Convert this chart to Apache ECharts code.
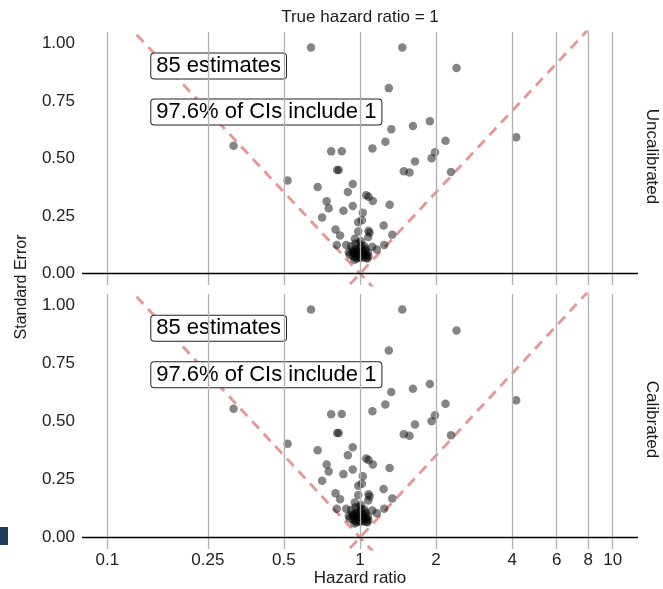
<!DOCTYPE html>
<html>
<head>
<meta charset="utf-8">
<script src="https://cdn.jsdelivr.net/npm/echarts@6/dist/echarts.min.js"></script>
<style>html,body{margin:0;padding:0;background:#fff}#c{width:663px;height:589px}</style>
</head>
<body>
<div id="c"></div>
<script>
// ---- data ----
const xTicks = [0.1, 0.25, 0.5, 1, 2, 4, 6, 8, 10];
const yTicks = [0, 0.25, 0.5, 0.75, 1];
const panelNames = ['Uncalibrated', 'Calibrated'];
const titleText = 'True hazard ratio = 1';
const annotationTexts = ['85 estimates', '97.6% of CIs include 1'];
const annotationX = [0.15, 0.15];
const annotationY = [0.9, 0.7];

const hrUncalibrated = [0.64,1.47,2.41,1.30,1.89,1.62,1.33,1.26,2.18,4.15,1.98,1.92,1.65,1.49,1.57,2.29,1.12,0.316,
  0.769,0.847,0.812,0.824,0.517,0.680,0.936,0.895,1.058,1.081,1.124,0.738,0.752,0.860,0.936,1.310,0.708,1.026,1.017,0.984,
  0.800,0.834,0.984,1.081,1.091,1.078,1.240,1.342,0.954,0.809,0.882,1.247,1.166,1.118,
  0.923,0.960,1.011,1.051,1.074,0.903,0.942,0.980,1.026,1.058,0.995,0.960,
  0.93,0.95,0.97,0.99,1.00,1.02,1.04,1.06,0.94,0.97,1.00,1.03,1.07,0.91,0.99,1.04,0.96,1.01,1.05,0.95,1.08];
const seUncalibrated = [0.983,0.983,0.893,0.806,0.662,0.641,0.627,0.573,0.577,0.592,0.527,0.501,0.487,0.445,0.439,0.441,0.544,0.555,
  0.531,0.532,0.450,0.450,0.404,0.376,0.389,0.354,0.340,0.334,0.315,0.314,0.284,0.273,0.293,0.299,0.244,0.264,0.232,0.223,
  0.191,0.165,0.183,0.186,0.177,0.159,0.209,0.168,0.151,0.124,0.124,0.124,0.104,0.116,
  0.118,0.104,0.121,0.107,0.090,0.092,0.090,0.086,0.090,0.068,0.072,0.072,
  0.100,0.095,0.100,0.095,0.110,0.095,0.085,0.080,0.075,0.065,0.068,0.070,0.065,0.082,0.130,0.120,0.130,0.140,0.100,0.060,0.075];
// calibrated panel looks identical in the reference
const hrCalibrated = hrUncalibrated.slice();
const seCalibrated = seUncalibrated.slice();

const critical = 1.96; // funnel: SE = |ln(HR)| / 1.96

// ---- chart ----
const FONT = '"Liberation Sans", Arial, sans-serif';
const chart = echarts.init(document.getElementById('c'), null, {renderer: 'canvas'});
const grids = [
  {left: 82, right: 25, top: 32, height: 253},
  {left: 82, right: 25, top: 294, height: 255}
];
const panelData = [[hrUncalibrated, seUncalibrated], [hrCalibrated, seCalibrated]];

const xAxes = [], yAxes = [], series = [];
grids.forEach((g, i) => {
  const isBottom = i === grids.length - 1;
  xAxes.push({
    type: 'log', logBase: 10, gridIndex: i,
    min: Math.pow(10, -1.1), max: Math.pow(10, 1.1),
    axisLine: {show: false}, axisTick: {show: false}, axisLabel: {show: false},
    splitLine: {show: false},
    name: isBottom ? 'Hazard ratio' : '', nameLocation: 'middle', nameGap: 21,
    nameTextStyle: {fontSize: 17, color: '#1a1a1a', fontFamily: FONT}
  });
  yAxes.push({
    type: 'value', gridIndex: i, min: -0.05, max: 1.05,
    axisLine: {show: false}, axisTick: {show: false}, splitLine: {show: false},
    axisLabel: {customValues: yTicks, formatter: v => v.toFixed(2), fontSize: 17, color: '#222', margin: 7, fontFamily: FONT}
  });
  // vertical grid lines (and x tick labels on the bottom panel) + zero line
  series.push({
    type: 'scatter', xAxisIndex: i, yAxisIndex: i, data: [], z: 1, silent: true,
    markLine: {
      silent: true, symbol: 'none', animation: false,
      data: xTicks.map(t => ({xAxis: t, lineStyle: {color: '#b0b0b0', width: 1.3, type: 'solid'},
        label: {show: isBottom, position: 'start', formatter: () => String(t), fontSize: 17, color: '#222', distance: 3, fontFamily: FONT}}))
        .concat([{yAxis: 0, lineStyle: {color: '#000', width: 1.4, type: 'solid'}, label: {show: false}}])
    }
  });
  // funnel guide lines
  const leftLine = [[Math.exp(-critical * 1.2), 1.2], [Math.exp(critical * 0.1), -0.1]];
  const rightLine = [[Math.exp(-critical * 0.1), -0.1], [Math.exp(critical * 1.2), 1.2]];
  [leftLine, rightLine].forEach(d => series.push({
    type: 'line', xAxisIndex: i, yAxisIndex: i, data: d, symbol: 'none', clip: true, z: 2, silent: true,
    lineStyle: {color: '#e8807f', width: 2.8, type: [10, 7], opacity: 0.85}, animation: false
  }));
  // points
  const [hr, se] = panelData[i];
  series.push({
    type: 'scatter', xAxisIndex: i, yAxisIndex: i, z: 3,
    data: hr.map((h, k) => [h, se[k]]), symbolSize: 8.5,
    itemStyle: {color: '#000', opacity: 0.48}, animation: false
  });
  // annotation labels
  series.push({
    type: 'scatter', xAxisIndex: i, yAxisIndex: i, z: 4, symbolSize: 1, silent: true,
    itemStyle: {color: 'rgba(0,0,0,0)'},
    data: annotationTexts.map((t, k) => ({value: [annotationX[k], annotationY[k]], name: t})),
    label: {
      show: true, position: [0, 0], align: 'left', verticalAlign: 'middle', opacity: 1,
      formatter: p => p.name, fontSize: 22, lineHeight: 21, color: '#000', fontFamily: FONT,
      backgroundColor: '#fff', borderColor: '#222', borderWidth: 1, borderRadius: 3, padding: [2, 5, 2, 5]
    }, animation: false
  });
});

const graphics = [
  {type: 'text', x: 360, y: 17, style: {text: titleText, fill: '#1a1a1a', font: '17px ' + FONT, align: 'center', verticalAlign: 'middle'}},
  {type: 'text', x: 22, y: 287, rotation: Math.PI / 2,
    style: {text: 'Standard Error', fill: '#1a1a1a', font: '16px ' + FONT, align: 'center', verticalAlign: 'middle'}},
  {type: 'rect', shape: {x: 0, y: 527, width: 8, height: 18}, style: {fill: '#1e3c5a'}}
];
panelNames.forEach((n, i) => {
  const g = grids[i];
  graphics.push({type: 'text', x: 652, y: g.top + g.height / 2 - 2, rotation: -Math.PI / 2,
    style: {text: n, fill: '#1a1a1a', font: '17px ' + FONT, align: 'center', verticalAlign: 'middle'}});
});

chart.setOption({
  animation: false,
  backgroundColor: '#fff',
  textStyle: {fontFamily: FONT},
  grid: grids,
  xAxis: xAxes,
  yAxis: yAxes,
  series: series,
  graphic: graphics
});
</script>
</body>
</html>
